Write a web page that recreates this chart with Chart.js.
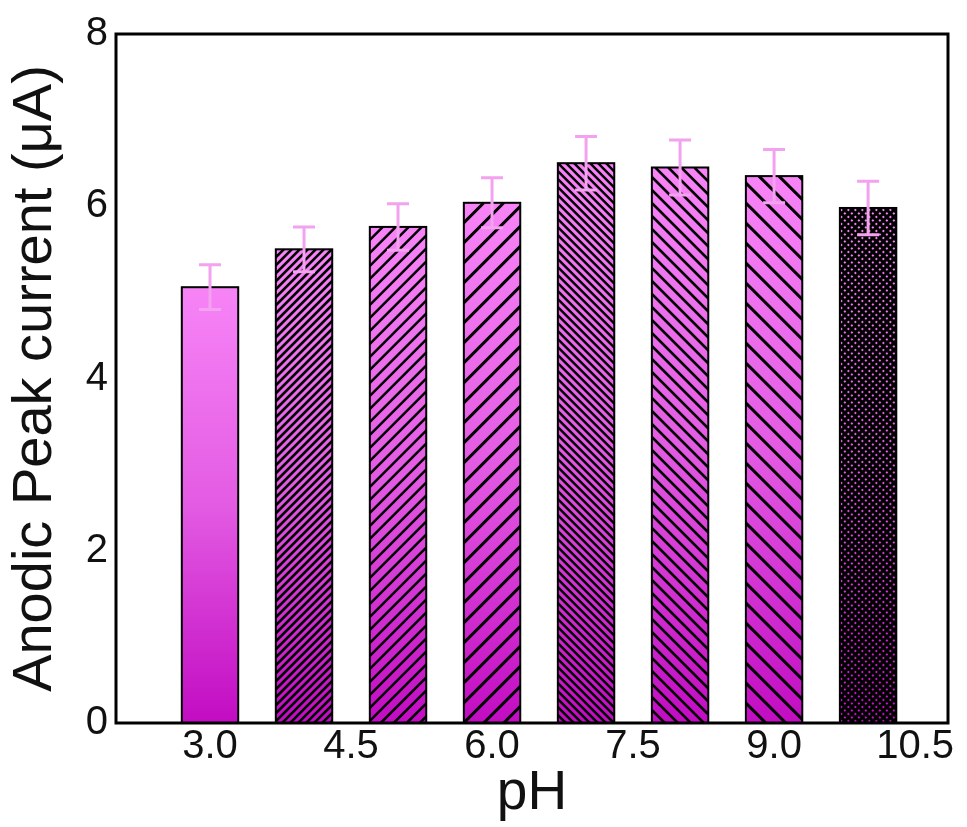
<!DOCTYPE html>
<html>
<head>
<meta charset="utf-8">
<script src="https://cdn.jsdelivr.net/npm/chart.js@4.4.1/dist/chart.umd.min.js"></script>
<style>
  html, body { margin: 0; padding: 0; background: #fff; }
  #wrap { width: 967px; height: 827px; }
</style>
</head>
<body>
<div id="wrap"><canvas id="phChart" width="967" height="827"></canvas></div>
<script>
// pH values of the bars and the measured anodic peak currents (µA)
const phValues = [3, 4, 5, 6, 7, 8, 9, 10];
const peakCurrent = [5.06, 5.50, 5.76, 6.04, 6.50, 6.45, 6.35, 5.98];
const currentError = [0.26, 0.26, 0.27, 0.29, 0.31, 0.32, 0.31, 0.31];
const xTickValues = [3.0, 4.5, 6.0, 7.5, 9.0, 10.5];
const yTickValues = [0, 2, 4, 6, 8];

// hatch style of every bar: direction, spacing, line width
const hatchStyles = [
    null,
    { dir: "/", gap: 8, lw: 2.5 },
    { dir: "/", gap: 13, lw: 2.5 },
    { dir: "/", gap: 20, lw: 3 },
    { dir: "\\", gap: 8, lw: 2.5 },
    { dir: "\\", gap: 13, lw: 2.5 },
    { dir: "\\", gap: 20, lw: 3 },
    { dir: "x", gap: 7, lw: 3 },
];

const FONT = "Arial, 'Liberation Sans', sans-serif";

function barGradient(c) {
    const ch = c.chart;
    const ys = ch.scales.y;
    if (!ys || !c.raw) return "#e060e0";
    const top = ys.getPixelForValue(c.raw.y);
    const base = ys.getPixelForValue(0);
    if (!isFinite(top) || !isFinite(base) || top === base) return "#e060e0";
    const g = ch.ctx.createLinearGradient(0, top, 0, base);
    g.addColorStop(0, "#f784f7");
    g.addColorStop(0.5, "#e35be3");
    g.addColorStop(1, "#c20cc2");
    return g;
}

function drawHatch(ctx, x0, y0, w, h, style) {
    ctx.save();
    ctx.beginPath();
    ctx.rect(x0, y0, w, h);
    ctx.clip();
    ctx.strokeStyle = "#000";
    ctx.lineWidth = style.lw;
    const dirs = style.dir === "x" ? ["/", "\\"] : [style.dir];
    dirs.forEach((d) => {
        ctx.beginPath();
        for (let c = -h; c < w + h; c += style.gap) {
            if (d === "/") {
                ctx.moveTo(x0 + c, y0 + h);
                ctx.lineTo(x0 + c + h, y0);
            } else {
                ctx.moveTo(x0 + c, y0);
                ctx.lineTo(x0 + c + h, y0 + h);
            }
        }
        ctx.stroke();
    });
    ctx.restore();
}

const overlayPlugin = {
    id: "overlay",
    afterDatasetsDraw(chart) {
        const ctx = chart.ctx;
        const meta = chart.getDatasetMeta(0);
        const ys = chart.scales.y;
        meta.data.forEach((bar, i) => {
            const w = bar.width;
            const x0 = bar.x - w / 2;
            const y0 = bar.y;
            const h = bar.base - bar.y;
            if (hatchStyles[i]) drawHatch(ctx, x0, y0, w, h, hatchStyles[i]);
            ctx.save();
            ctx.strokeStyle = "#000";
            ctx.lineWidth = 2;
            ctx.strokeRect(x0, y0, w, h);
            ctx.restore();
        });
        // error bars
        ctx.save();
        ctx.strokeStyle = "#f2a2ee";
        ctx.lineWidth = 3;
        meta.data.forEach((bar, i) => {
            const hi = ys.getPixelForValue(peakCurrent[i] + currentError[i]);
            const lo = ys.getPixelForValue(peakCurrent[i] - currentError[i]);
            const cap = 11;
            ctx.beginPath();
            ctx.moveTo(bar.x, hi);
            ctx.lineTo(bar.x, lo);
            ctx.moveTo(bar.x - cap, hi);
            ctx.lineTo(bar.x + cap, hi);
            ctx.moveTo(bar.x - cap, lo);
            ctx.lineTo(bar.x + cap, lo);
            ctx.stroke();
        });
        ctx.restore();
        // frame
        const a = chart.chartArea;
        ctx.save();
        ctx.strokeStyle = "#000";
        ctx.lineWidth = 3;
        ctx.strokeRect(a.left, a.top, a.right - a.left, a.bottom - a.top);
        ctx.restore();
    },
};

new Chart(document.getElementById("phChart"), {
    type: "bar",
    data: {
        datasets: [
            {
                data: phValues.map((p, i) => ({ x: p, y: peakCurrent[i] })),
                backgroundColor: barGradient,
                borderColor: "#000",
                borderWidth: 0,
                barPercentage: 0.6,
                categoryPercentage: 1,
            },
        ],
    },
    options: {
        responsive: false,
        animation: false,
        layout: { padding: { left: 0, right: 19, top: 34, bottom: 0 } },
        plugins: {
            legend: { display: false },
            tooltip: { enabled: false },
        },
        scales: {
            x: {
                type: "linear",
                offset: false,
                min: 2.0,
                max: 10.85,
                grid: { display: false, drawTicks: false },
                border: { display: false },
                afterBuildTicks: (scale) => {
                    scale.ticks = xTickValues.map((v) => ({ value: v }));
                },
                afterFit: (scale) => { scale.height = 104; },
                ticks: {
                    autoSkip: false,
                    maxRotation: 0,
                    padding: 0,
                    color: "#111",
                    font: { family: FONT, size: 40 },
                    callback: (v) => Number(v).toFixed(1),
                },
                title: {
                    display: true,
                    text: "pH",
                    color: "#111",
                    font: { family: FONT, size: 55 },
                    padding: { top: 0, bottom: 0 },
                },
            },
            y: {
                min: 0,
                max: 8,
                grid: { display: false, drawTicks: false },
                border: { display: false },
                afterBuildTicks: (scale) => {
                    scale.ticks = yTickValues.map((v) => ({ value: v }));
                },
                afterFit: (scale) => { scale.width = 116; },
                ticks: {
                    padding: 8,
                    color: "#111",
                    font: { family: FONT, size: 40 },
                },
                title: {
                    display: true,
                    text: "Anodic Peak current (μA)",
                    color: "#111",
                    font: { family: FONT, size: 56 },
                    padding: { top: 2, bottom: 0 },
                },
            },
        },
    },
    plugins: [overlayPlugin],
});
</script>
</body>
</html>
